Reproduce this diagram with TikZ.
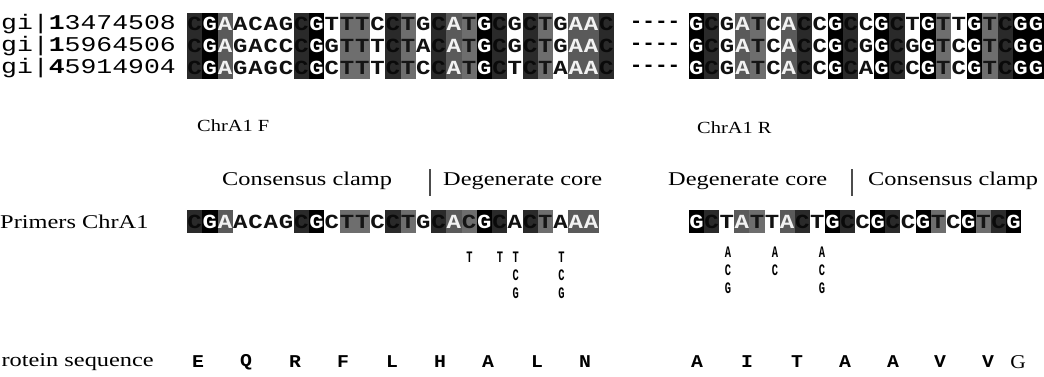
\documentclass[tikz,border=0pt]{standalone}
\usepackage{fontspec}
\setmainfont{Liberation Serif}
\setmonofont{Liberation Mono}
\usepackage{graphicx}
\definecolor{bgk}{HTML}{000000}\definecolor{fgk}{HTML}{FFFFFF}
\definecolor{bgd}{HTML}{2A2A2A}\definecolor{fgd}{HTML}{0A0A0A}
\definecolor{bga}{HTML}{5A5A5A}\definecolor{fga}{HTML}{F2F2F2}
\definecolor{bgt}{HTML}{6E6E6E}\definecolor{fgt}{HTML}{151515}
\definecolor{bgw}{HTML}{FFFFFF}\definecolor{fgw}{HTML}{111111}
\newcommand\hs[2]{\scalebox{#1}[1]{#2}}
\tikzset{
  seqch/.style={font=\fontsize{20}{20}\selectfont\ttfamily\bfseries, inner sep=0pt, anchor=center},
  gilabel/.style={font=\fontsize{21}{21}\selectfont\ttfamily, inner sep=0pt, anchor=west},
  serif/.style={font=\fontsize{19.5}{20}\selectfont, inner sep=0pt, anchor=west},
  chrlab/.style={font=\fontsize{17}{18}\selectfont, inner sep=0pt, anchor=west},
  prot/.style={font=\fontsize{18}{18}\selectfont\ttfamily\bfseries, inner sep=0pt, anchor=center},
  degen/.style={font=\fontsize{16}{16}\selectfont\ttfamily\bfseries, inner sep=0pt, anchor=center},
  sepbar/.style={line width=1.6pt, draw=black!70},
}
\begin{document}
\begin{tikzpicture}[x=1pt,y=-1pt]
\useasboundingbox (0,0) rectangle (1044,377);
% ---------- labels of the alignment ----------
\node[gilabel] (g1) at (1,24) {\hs{1.26}{gi|\textbf{1}3474508}};
\node[gilabel] (g2) at (1,46) {\hs{1.26}{gi|\textbf{1}5964506}};
\node[gilabel] (g3) at (1,68) {\hs{1.26}{gi|\textbf{4}5914904}};
% ---------- left block ----------
\foreach \cd/\ra/\rb/\rc [count=\i from 0] in {
 d/C/C/C, k/G/G/G, a/A/A/A, w/A/G/G, w/C/A/A, w/A/C/G, w/G/C/C, d/C/C/C,
 k/G/G/G, w/T/G/C, t/T/T/T, t/T/T/T, w/C/T/T, d/C/C/C, t/T/T/T, w/G/A/C,
 d/C/C/C, a/A/A/A, t/T/T/T, k/G/G/G, d/C/C/C, w/G/G/T, d/C/C/C, t/T/T/T,
 w/G/G/A, a/A/A/A, a/A/A/A, d/C/C/C} {
  \pgfmathsetmacro\xl{187+\i*15.25}
  \fill[bg\cd] (\xl,13) rectangle ++(15.25,66);
  \node[seqch, text=fg\cd] (La\i) at (\xl+7.62,24) {\hs{1.2}{\ra}};
  \node[seqch, text=fg\cd] (Lb\i) at (\xl+7.62,46) {\hs{1.2}{\rb}};
  \node[seqch, text=fg\cd] (Lc\i) at (\xl+7.62,68) {\hs{1.2}{\rc}};
}
% ---------- dashes ----------
\node[seqch] (d1) at (655,24) {\hs{1.05}{----}};
\node[seqch] (d2) at (655,46) {\hs{1.05}{----}};
\node[seqch] (d3) at (655,68) {\hs{1.05}{----}};
% ---------- right block ----------
\foreach \cd/\ra/\rb/\rc [count=\i from 0] in {
 k/G/G/G, d/C/C/C, w/G/G/G, a/A/A/A, t/T/T/T, w/C/C/C, a/A/A/A, d/C/C/C,
 w/C/C/C, k/G/G/G, d/C/C/C, w/C/G/A, k/G/G/G, d/C/C/C, w/T/G/C, k/G/G/G,
 t/T/T/T, w/T/C/C, k/G/G/G, t/T/T/T, d/C/C/C, k/G/G/G, k/G/G/G} {
  \pgfmathsetmacro\xl{688.5+\i*15.45}
  \fill[bg\cd] (\xl,13) rectangle ++(15.45,66);
  \node[seqch, text=fg\cd] (Ra\i) at (\xl+7.72,24) {\hs{1.2}{\ra}};
  \node[seqch, text=fg\cd] (Rb\i) at (\xl+7.72,46) {\hs{1.2}{\rb}};
  \node[seqch, text=fg\cd] (Rc\i) at (\xl+7.72,68) {\hs{1.2}{\rc}};
}
% ---------- headings ----------
\node[chrlab] (chrF) at (197,126) {\hs{1.2}{ChrA1 F}};
\node[chrlab] (chrR) at (697,128) {\hs{1.2}{ChrA1 R}};
\node[serif] (ccL) at (222,181) {\hs{1.25}{Consensus clamp}};
\node[serif] (dcL) at (443,181) {\hs{1.25}{Degenerate core}};
\coordinate (bL1) at (430,169); \coordinate (bL2) at (430,196);
\draw[sepbar] (bL1) -- (bL2);
\node[serif] (dcR) at (668,181) {\hs{1.25}{Degenerate core}};
\node[serif] (ccR) at (868,181) {\hs{1.25}{Consensus clamp}};
\coordinate (bR1) at (852,169); \coordinate (bR2) at (852,196);
\draw[sepbar] (bR1) -- (bR2);
% ---------- primers ----------
\node[serif] (prim) at (0,222) {\hs{1.25}{Primers ChrA1}};
\foreach \cd/\ra [count=\i from 0] in {
 d/C, k/G, a/A, w/A, w/C, w/A, w/G, d/C, k/G, w/C, t/T, t/T, w/C, d/C,
 t/T, w/G, d/C, a/A, t/C, k/G, d/C, w/A, d/C, t/T, w/A, a/A, a/A} {
  \pgfmathsetmacro\xl{187+\i*15.25}
  \fill[bg\cd] (\xl,210) rectangle ++(15.25,23);
  \node[seqch, text=fg\cd] (PL\i) at (\xl+7.62,221.5) {\hs{1.2}{\ra}};
}
\foreach \cd/\ra [count=\i from 0] in {
 k/G, d/C, w/T, a/A, t/T, w/T, a/A, d/C, w/T, k/G, d/C, w/C, k/G, d/C,
 w/C, k/G, t/T, w/C, k/G, t/T, d/C, k/G} {
  \pgfmathsetmacro\xl{689+\i*15.1}
  \fill[bg\cd] (\xl,210) rectangle ++(15.1,23);
  \node[seqch, text=fg\cd] (PR\i) at (\xl+7.55,221.5) {\hs{1.2}{\ra}};
}
% ---------- degenerate alternatives ----------
\node[degen] (m1) at (469.6,257) {\hs{0.65}{T}};
\node[degen] (m2) at (500,257) {\hs{0.65}{T}};
\node[degen] (m3) at (515.8,257) {\hs{0.65}{T}};
\node[degen] (m4) at (515.8,275) {\hs{0.65}{C}};
\node[degen] (m5) at (515.8,293) {\hs{0.65}{G}};
\node[degen] (m6) at (561.5,257) {\hs{0.65}{T}};
\node[degen] (m7) at (561.5,275) {\hs{0.65}{C}};
\node[degen] (m8) at (561.5,293) {\hs{0.65}{G}};
\node[degen] (n1) at (728,252) {\hs{0.65}{A}};
\node[degen] (n2) at (728,270) {\hs{0.65}{C}};
\node[degen] (n3) at (728,288) {\hs{0.65}{G}};
\node[degen] (n4) at (775,252) {\hs{0.65}{A}};
\node[degen] (n5) at (775,270) {\hs{0.65}{C}};
\node[degen] (n6) at (822,252) {\hs{0.65}{A}};
\node[degen] (n7) at (822,270) {\hs{0.65}{C}};
\node[degen] (n8) at (822,288) {\hs{0.65}{G}};
% ---------- protein sequence ----------
\node[serif, anchor=east] (protlab) at (154,362) {\hs{1.25}{rotein sequence}};
\foreach \aa/\xx [count=\i] in {E/198, Q/246, R/295, F/343, L/392, H/440, A/488, L/537, N/585,
  A/697, I/747, T/797, A/845, A/893, V/940, V/988} {
  \node[prot] (aa\i) at (\xx,362) {\hs{1.1}{\aa}};
}
\node[serif, anchor=center] (aaG) at (1018,362) {\hs{1.1}{G}};
\end{tikzpicture}
\end{document}
